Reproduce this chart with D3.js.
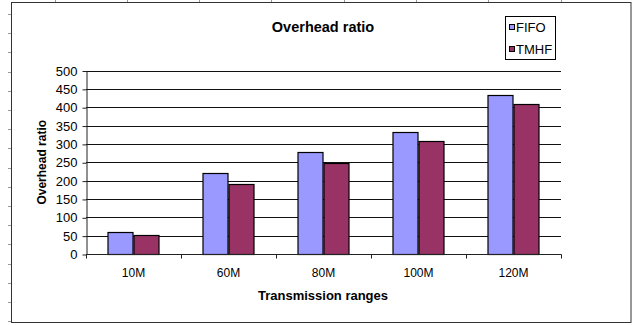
<!DOCTYPE html>
<html><head><meta charset="utf-8">
<script src="https://cdn.jsdelivr.net/npm/d3@7/dist/d3.min.js"></script>
<style>
html,body{margin:0;padding:0;background:#fff;}
svg{display:block;font-family:"Liberation Sans",Arial,sans-serif;}
</style></head>
<body>
<svg id="chart" width="633" height="325"></svg>
<script>
const categories = ["10M","60M","80M","100M","120M"];
const seriesNames = ["FIFO","TMHF"];
const fifoValues = [59, 220, 279, 333, 432];
const tmhfValues = [53, 192, 248, 309, 408];
const yTicks = [0,50,100,150,200,250,300,350,400,450,500];
const colors = {FIFO:"#9999FF", TMHF:"#993366"};

const svg = d3.select("#chart");

// spreadsheet cell lines outside the chart frame
const colLines = [55,127,199,271,344,416,488,561];
svg.selectAll(".col").data(colLines).enter().append("line")
  .attr("x1",d=>d+0.5).attr("x2",d=>d+0.5).attr("y1",0).attr("y2",3)
  .attr("stroke","#999");
const rowLines = d3.range(0,17).map(i=>14+19.2*i);
svg.selectAll(".row").data(rowLines).enter().append("line")
  .attr("x1",8).attr("x2",12).attr("y1",d=>Math.round(d)+0.5).attr("y2",d=>Math.round(d)+0.5)
  .attr("stroke","#999");

// chart frame
svg.append("rect").attr("x",11.5).attr("y",2.5).attr("width",619.5).attr("height",320)
  .attr("fill","#fff").attr("stroke","#333");

const pLeft=86, pRight=561, pTop=70.5, pBottom=254;
const x0 = d3.scaleBand().domain(categories).range([pLeft,pRight]).paddingInner(0.4526).paddingOuter(0.2263);
const x1 = d3.scaleBand().domain(seriesNames).range([0,x0.bandwidth()]);
const y = d3.scaleLinear().domain([0,500]).range([pBottom,pTop]);

// gridlines
svg.append("g").selectAll("line").data(yTicks.filter(d=>d>0)).enter().append("line")
  .attr("x1",pLeft).attr("x2",pRight)
  .attr("y1",d=>Math.round(y(d))+0.5).attr("y2",d=>Math.round(y(d))+0.5)
  .attr("stroke","#111").attr("stroke-width",1);

// bars
const data = categories.map((c,i)=>({cat:c, values:[{s:"FIFO",v:fifoValues[i]},{s:"TMHF",v:tmhfValues[i]}]}));
const groups = svg.append("g").selectAll("g").data(data).enter().append("g")
  .attr("transform",d=>`translate(${x0(d.cat)},0)`);
groups.selectAll("rect").data(d=>d.values).enter().append("rect")
  .attr("x",d=>Math.round(x1(d.s))+0.5)
  .attr("y",d=>Math.round(y(d.v))+0.5)
  .attr("width",x1.bandwidth()-1)
  .attr("height",d=>Math.round(y(0))-Math.round(y(d.v)))
  .attr("fill",d=>colors[d.s]).attr("stroke","#000").attr("stroke-width",1.2);

// y axis
const yAxis = d3.axisLeft(y).tickValues(yTicks).tickSize(4).tickPadding(5).tickSizeOuter(0);
const gy = svg.append("g").attr("transform",`translate(${pLeft+0.5},0.5)`).call(yAxis);
gy.select(".domain").attr("stroke","#222");
gy.selectAll(".tick line").attr("stroke","#222");
gy.selectAll("text").attr("font-size",13).attr("fill","#000").attr("font-family","Liberation Sans, Arial, sans-serif");

// x axis
const boundaries = categories.map(c=>x0(c)-x0.step()*x0.paddingInner()/2);
const gx = svg.append("g").attr("transform",`translate(0,${pBottom+0.5})`);
gx.append("line").attr("x1",pLeft).attr("x2",pRight+0.5).attr("y1",0).attr("y2",0).attr("stroke","#222");
gx.selectAll(".tk").data(boundaries.concat([pRight])).enter().append("line")
  .attr("x1",(d,i)=>i===0?pLeft+0.5:Math.round(d)+0.5).attr("x2",(d,i)=>i===0?pLeft+0.5:Math.round(d)+0.5)
  .attr("y1",0).attr("y2",4).attr("stroke","#222");
gx.selectAll("text").data(categories).enter().append("text")
  .attr("x",d=>x0(d)+x0.bandwidth()/2).attr("y",22)
  .attr("text-anchor","middle").attr("font-size",12).attr("fill","#000").text(d=>d);

// titles
svg.append("text").attr("x",323).attr("y",32).attr("text-anchor","middle")
  .attr("font-size",14.5).attr("font-weight","bold").text("Overhead ratio");
svg.append("text").attr("x",323).attr("y",300).attr("text-anchor","middle")
  .attr("font-size",13).attr("font-weight","bold").text("Transmission ranges");
svg.append("text").attr("transform",`translate(46,${(pTop+pBottom)/2}) rotate(-90)`)
  .attr("text-anchor","middle").attr("font-size",12).attr("font-weight","bold").text("Overhead ratio");

// legend
const lg = svg.append("g");
lg.append("rect").attr("x",505.5).attr("y",16.5).attr("width",50).attr("height",43)
  .attr("fill","#fff").attr("stroke","#000");
const items = lg.selectAll(".it").data(seriesNames).enter().append("g")
  .attr("transform",(d,i)=>`translate(0,${i*22})`);
items.append("rect").attr("x",509.5).attr("y",24.5).attr("width",5).attr("height",5)
  .attr("fill",d=>colors[d]).attr("stroke","#000");
items.append("text").attr("x",516).attr("y",31.5).attr("font-size",13).attr("fill","#000").text(d=>d);
</script>
</body></html>
